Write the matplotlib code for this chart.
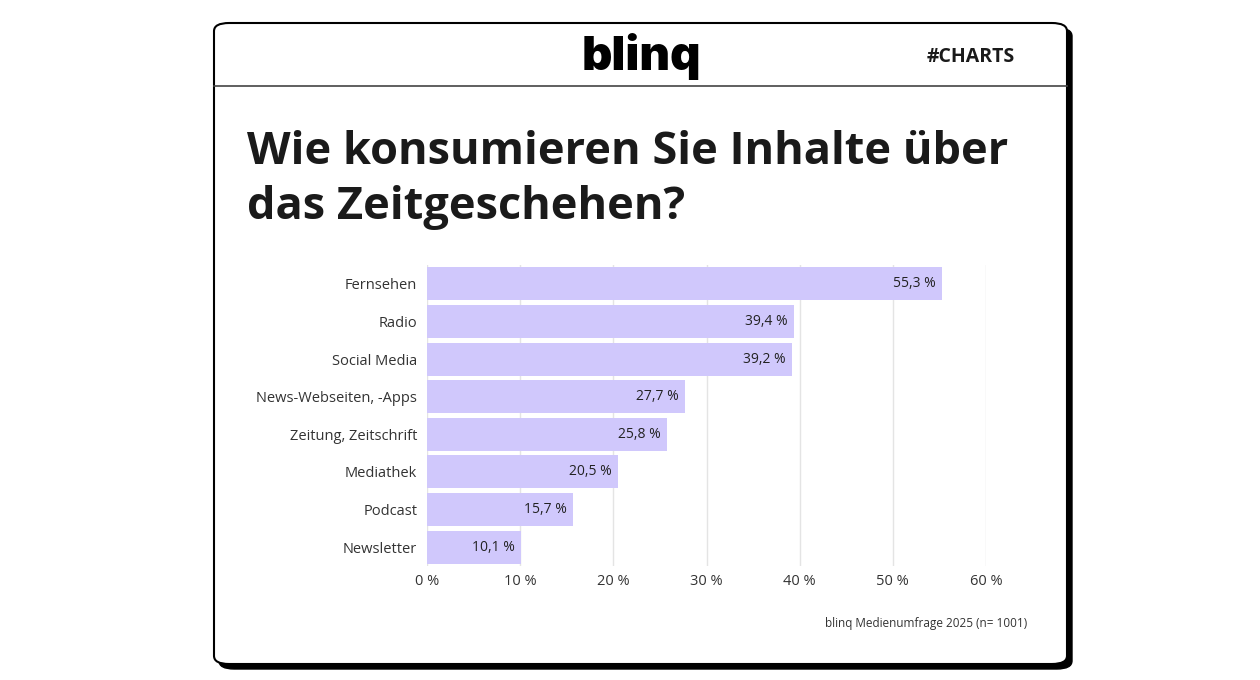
import matplotlib
matplotlib.use("Agg")
import matplotlib.pyplot as plt
from matplotlib.patches import FancyBboxPatch
from matplotlib.lines import Line2D

categories = ["Fernsehen", "Radio", "Social Media", "News-Webseiten, -Apps",
              "Zeitung, Zeitschrift", "Mediathek", "Podcast", "Newsletter"]
values = [55.3, 39.4, 39.2, 27.7, 25.8, 20.5, 15.7, 10.1]
xticks = [0, 10, 20, 30, 40, 50, 60]
title = "Wie konsumieren Sie Inhalte über\ndas Zeitgeschehen?"
source = "blinq Medienumfrage 2025 (n= 1001)"

W, H = 1260, 680
fig = plt.figure(figsize=(W / 100, H / 100), dpi=100)
fig.patch.set_facecolor("white")


def fx(px):
    return px / W


def fy(py):
    return 1 - py / H


# card with black drop shadow
shadow = FancyBboxPatch((fx(219), fy(669)), fx(1072) - fx(219), fy(28) - fy(669),
                        boxstyle="round,pad=0,rounding_size=0.012",
                        transform=fig.transFigure, facecolor="black",
                        edgecolor="black", zorder=0)
card = FancyBboxPatch((fx(214), fy(664)), fx(1067) - fx(214), fy(23) - fy(664),
                      boxstyle="round,pad=0,rounding_size=0.012",
                      transform=fig.transFigure, facecolor="white",
                      edgecolor="black", linewidth=1.5, zorder=1)
fig.patches.extend([shadow, card])
fig.lines.append(Line2D([fx(214), fx(1067)], [fy(86), fy(86)],
                        transform=fig.transFigure, color="#444444",
                        linewidth=1.2, zorder=2))

# header
fig.text(fx(641), fy(57), "blinq", ha="center", va="center",
         fontsize=34, fontweight="black", family="Inter", color="black",
         zorder=3)
fig.text(fx(971), fy(57), "#CHARTS", ha="center", va="center",
         fontsize=14, fontweight="bold", family="Open Sans", color="#1a1a1a",
         zorder=3)

# title
fig.text(fx(247), fy(180), title, ha="left", va="center", fontsize=32.5,
         fontweight="bold", family="Open Sans", color="#1a1a1a",
         linespacing=1.27, zorder=3)

# chart
ax = fig.add_axes([fx(427), fy(566), fx(986) - fx(427), fy(265) - fy(566)])
ax.set_zorder(3)
ax.patch.set_alpha(0)
ypos = list(range(len(categories)))
ax.barh(ypos, values, height=0.88, color="#d0c8fc", zorder=2)
ax.set_ylim(len(categories) - 0.5, -0.5)
ax.set_xlim(0, 60)
ax.set_xticks(xticks)
ax.set_xticklabels([f"{t} %" for t in xticks], fontsize=10.5, color="#333333",
                   family="Open Sans")
ax.set_yticks(ypos)
ax.set_yticklabels(categories, fontsize=10.5, color="#333333",
                   family="Open Sans")
ax.tick_params(axis="both", length=0)
ax.tick_params(axis="y", pad=7)
ax.tick_params(axis="x", pad=6)
ax.grid(axis="x", color="#e4e4e4", linewidth=1, zorder=0)
for s in ax.spines.values():
    s.set_visible(False)

for y, v in zip(ypos, values):
    label = f"{v:.1f}".replace(".", ",") + " %"
    ax.text(v - 0.7, y, label, ha="right", va="center", fontsize=10,
            color="#222222", family="Open Sans", zorder=3)

fig.text(fx(1027), fy(624), source, ha="right", va="center", fontsize=8.5,
         color="#333333", family="Open Sans", zorder=3)

fig.savefig("out.png", dpi=100, facecolor="white")
